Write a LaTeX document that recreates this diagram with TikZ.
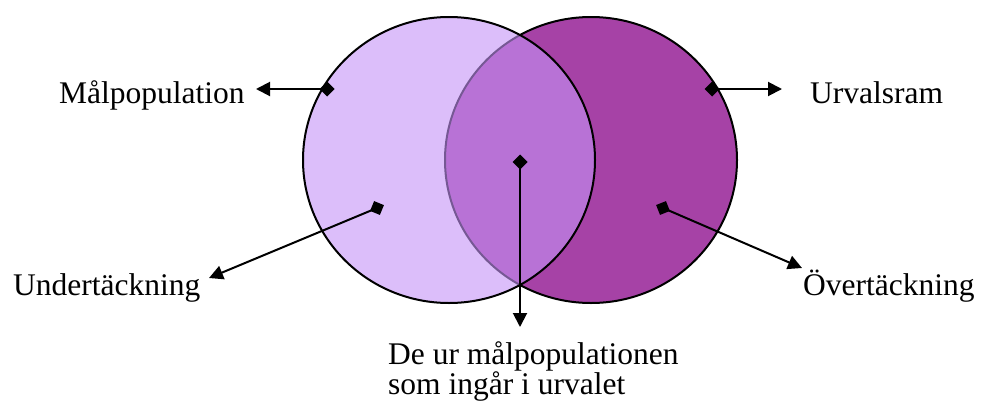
\documentclass[tikz,border=0pt]{standalone}
\usepackage{fontspec}
\setmainfont{Liberation Serif}
\usetikzlibrary{arrows.meta,calc}
\definecolor{lavfill}{RGB}{197,147,247}
\definecolor{magfill}{RGB}{166,66,166}
\tikzset{
  circ/.style={line width=2pt, draw=black},
  conn/.style={line width=2pt, {Diamond[length=15pt,width=15pt]}-{Triangle[length=14pt,width=14pt]}},
  lbl/.style={inner sep=0pt, font=\fontsize{31.5}{32}\selectfont},
}
\begin{document}
\begin{tikzpicture}[x=1pt,y=-1pt]
\useasboundingbox (0,0) rectangle (1002,410);
% circles
\path[circ, fill=magfill] (591,160) ellipse [x radius=146, y radius=143];
\path[circ, fill=lavfill, fill opacity=0.6] (449,160) ellipse [x radius=146, y radius=143];
% labels
\node[lbl, anchor=base west] (mal) at (59,103) {Målpopulation};
\node[lbl, anchor=base west] (urv) at (810,103) {Urvalsram};
\node[lbl, anchor=base west] (und) at (13,295) {Undertäckning};
\node[lbl, anchor=base west] (ove) at (803,295) {Övertäckning};
\node[lbl, anchor=north west, align=left, font=\fontsize{31.5}{30}\selectfont] (de) at (388,341) {De ur målpopulationen\\som ingår i urvalet};
% diamond points and tips
\coordinate (d1) at (327,89);  \coordinate (t1) at (256,89);
\coordinate (d2) at (712,89);  \coordinate (t2) at (782,89);
\coordinate (d3) at (377,208); \coordinate (t3) at (209,278);
\coordinate (d4) at (663,208); \coordinate (t4) at (802,268);
\coordinate (d5) at (520,162); \coordinate (t5) at (520,327);
\draw[conn] ($(d1)!-7.5pt!(t1)$) -- (t1);
\draw[conn] ($(d2)!-7.5pt!(t2)$) -- (t2);
\draw[conn] ($(d3)!-7.5pt!(t3)$) -- (t3);
\draw[conn] ($(d4)!-7.5pt!(t4)$) -- (t4);
\draw[conn] ($(d5)!-7.5pt!(t5)$) -- (t5);
\end{tikzpicture}
\end{document}
